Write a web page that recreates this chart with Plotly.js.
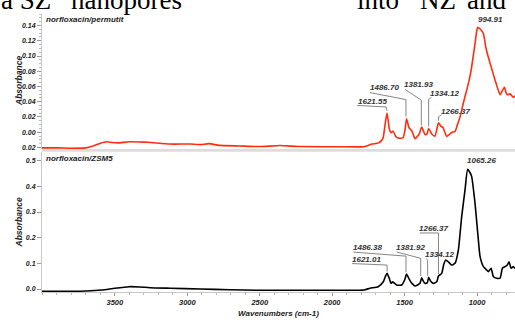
<!DOCTYPE html>
<html><head><meta charset="utf-8">
<script src="https://cdn.plot.ly/plotly-3.0.1.min.js"></script>
<style>html,body{margin:0;padding:0;background:#fff;overflow:hidden}#chart{width:515px;height:320px}</style>
</head><body><div id="chart"></div>
<script>
// ---- data ----
const permutitWn = [4003,3900,3800,3700,3650,3600,3560,3520,3480,3400,3300,3250,3120,2980,2910,2850,2780,2640,2500,2360,2220,1950,1780,1725,1680,1650,1635,1621.55,1605,1594,1580,1560,1546,1511,1498,1486.70,1470,1449,1428,1400,1381.93,1359,1345,1334.12,1310,1290,1266.37,1250,1235,1209,1175,1152,1135,1117,1095,1071,1050,1037,1014,1003,994.91,980,956,940,929,910,876,841,830,811,800,791,772,749,738];
const permutitAbs = [-0.0205,-0.0205,-0.021,-0.0205,-0.018,-0.0145,-0.0125,-0.0135,-0.014,-0.0125,-0.013,-0.0135,-0.0155,-0.0155,-0.0163,-0.015,-0.0173,-0.018,-0.0188,-0.0175,-0.0188,-0.019,-0.019,-0.0155,-0.014,-0.0085,0.010,0.0253,0.004,-0.0006,0.0014,-0.006,-0.0075,-0.0075,0.002,0.0175,0.006,0.0014,-0.0086,-0.0025,0.0067,-0.0029,-0.0022,0.0049,-0.003,-0.005,0.0123,0.008,0.0062,-0.0055,-0.0003,0.001,0.010,0.0205,0.038,0.0556,0.072,0.0859,0.1162,0.132,0.1378,0.1357,0.1292,0.112,0.1032,0.0906,0.0686,0.0491,0.053,0.0591,0.052,0.0491,0.0504,0.0456,0.0478];
const zsm5Wn = [4003,3800,3700,3590,3500,3400,3330,3258,3120,2913,2706,2499,2300,2000,1780,1739,1682,1647,1632,1621.01,1605,1594,1582,1555,1520,1500,1486.38,1470,1458,1428,1394,1381.92,1370,1359,1343,1334.12,1320,1302,1278,1266.37,1244,1230,1216,1198,1175,1152,1129,1106,1083,1065.26,1050,1037,1014,995,979,956,933,922,903,887,864,841,825,807,791,779,765,749,738];
const zsm5Abs = [-0.009,-0.009,-0.008,-0.004,0.003,0.009,0.008,0.005,0.003,0.000,-0.003,-0.005,-0.005,-0.005,-0.004,0.003,0.009,0.028,0.050,0.061,0.040,0.022,0.028,0.0156,0.0156,0.035,0.058,0.040,0.028,0.0117,0.022,0.044,0.030,0.022,0.025,0.0456,0.030,0.022,0.028,0.0507,0.061,0.095,0.113,0.106,0.0935,0.100,0.152,0.282,0.386,0.466,0.455,0.438,0.334,0.217,0.126,0.087,0.074,0.0675,0.081,0.048,0.042,0.042,0.081,0.087,0.0935,0.106,0.081,0.087,0.080];
const permutitPeaks = [1621.55, 1486.70, 1381.93, 1334.12, 1266.37, 994.91];
const zsm5Peaks = [1621.01, 1486.38, 1381.92, 1334.12, 1266.37, 1065.26];
const panelTitles = ['norfloxacin/permutit', 'norfloxacin/ZSM5'];
const topTickVals = [-0.02, 0, 0.02, 0.04, 0.06, 0.08, 0.10, 0.12, 0.14];
const topTickText = ['0.02', '0.00', '0.02', '0.04', '0.06', '0.08', '0.10', '0.12', '0.14'];
const bottomTickVals = [0, 0.1, 0.2, 0.3, 0.4, 0.5];
const bottomTickText = ['0.0', '0.1', '0.2', '0.3', '0.4', '0.5'];
const xTickVals = [3500, 3000, 2500, 2000, 1500, 1000];
const xTitle = 'Wavenumbers (cm-1)';
const yTitle = 'Absorbance';
const headerWords = ['a SZ', 'nanopores', 'into', 'NZ', 'and'];

// ---- styles (label offsets in screen pixels, y downward) ----
const topLabelStyle = [
  {dx:-15, dy:-11.3, path:[[-30,-7.5],[-1,-6],[0,-2]]},
  {dx:-22.3, dy:-31, path:[[-36.6,-26.3],[-0.6,-19.3],[-0.6,-2.3]]},
  {dx:-3, dy:-42.7, path:[[-16.7,-37.7],[-0.4,-27],[-0.4,-1.7]]},
  {dx:16.3, dy:-35, path:[[2.7,-31],[0,-29],[0,-2]]},
  {dx:17, dy:-11.6, path:[[3,-8],[0,-6],[0,-2]]},
  {dx:12.7, dy:-7.5, path:null}
];
const bottomLabelStyle = [
  {dx:-21, dy:-14, path:[[-35,-9.8],[0,-8.3],[0,-1.8]]},
  {dx:-39, dy:-26.7, path:[[-53,-22],[-0.6,-18],[-0.6,-2]]},
  {dx:-11.4, dy:-30.4, path:[[-25,-25.7],[-1,-19.4],[-1,-1.7]]},
  {dx:11.3, dy:-23.3, path:[[-2.3,-18.8],[-1,-17],[-1,-1.5]]},
  {dx:-4.8, dy:-47.7, path:[[-18.6,-43],[0,-43],[0,-2]]},
  {dx:14.2, dy:-8.6, path:null}
];
const headerStyle = [
  {sx:-1, anchor:'left'}, {sx:184, anchor:'right'},
  {sx:355, anchor:'left'}, {sx:438, anchor:'center'}, {sx:508, anchor:'right'}
];

const SANS = 'Liberation Sans, Arial, sans-serif';
const bi = (size, color) => ({family: SANS, size: size, color: color || '#222', weight: 'bold', style: 'italic'});
const W = 515, H = 320, ML = 42, MR = 0, MT = 14, MB = 28;
const PW = W - ML - MR, PH = H - MT - MB;
const paperY = s => (H - MB - s) / PH;
const paperX = s => (s - ML) / PW;

const annotations = [];
const shapes = [];

function addLabels(peaks, wn, ab, styles, yref) {
  peaks.forEach((p, i) => {
    const idx = wn.indexOf(p);
    const v = ab[idx];
    const st = styles[i];
    annotations.push({x: p, y: v, xref: 'x', yref: yref, text: p.toFixed(2), showarrow: false,
      xanchor: 'center', yanchor: 'middle', xshift: st.dx, yshift: -st.dy, font: bi(8, '#333')});
    if (st.path) {
      const d = st.path.map((pt, k) => (k === 0 ? 'M' : 'L') + pt[0] + ',' + (-pt[1])).join(' ');
      shapes.push({type: 'path', xref: 'x', yref: yref, xsizemode: 'pixel', ysizemode: 'pixel',
        xanchor: p, yanchor: v, path: d, line: {color: '#666', width: 0.8}});
    }
  });
}
addLabels(permutitPeaks, permutitWn, permutitAbs, topLabelStyle, 'y2');
addLabels(zsm5Peaks, zsm5Wn, zsm5Abs, bottomLabelStyle, 'y');

// panel titles
annotations.push({x: 0, y: 1, xref: 'paper', yref: 'paper', xanchor: 'left', yanchor: 'top',
  xshift: 2, yshift: 1, text: panelTitles[0], showarrow: false, font: bi(8)});
annotations.push({x: 0, y: paperY(152), xref: 'paper', yref: 'paper', xanchor: 'left', yanchor: 'top',
  xshift: 2, yshift: 0, text: panelTitles[1], showarrow: false, font: bi(8)});

// y axis titles (placed as rotated annotations beside each panel)
annotations.push({x: paperX(18.5), y: paperY(81.5), xref: 'paper', yref: 'paper', xanchor: 'center', yanchor: 'middle',
  textangle: -90, text: yTitle, showarrow: false, font: bi(8.5)});
annotations.push({x: paperX(18.5), y: paperY(223), xref: 'paper', yref: 'paper', xanchor: 'center', yanchor: 'middle',
  textangle: -90, text: yTitle, showarrow: false, font: bi(8.5)});

// cropped header text from the page
headerWords.forEach((w, i) => {
  annotations.push({x: paperX(headerStyle[i].sx), y: 1, xref: 'paper', yref: 'paper',
    xanchor: headerStyle[i].anchor, yanchor: 'bottom', yshift: -3, text: w, showarrow: false,
    font: {family: 'Liberation Serif, Times New Roman, serif', size: 27, color: '#000'}});
});

// gray separator band
shapes.push({type: 'rect', xref: 'paper', yref: 'paper', x0: 0, x1: 1, y0: paperY(151.8), y1: paperY(149),
  fillcolor: '#dcdcdc', line: {width: 0}, layer: 'below'});

const traces = [
  {x: permutitWn, y: permutitAbs, xaxis: 'x2', yaxis: 'y2', type: 'scatter', mode: 'lines',
   line: {color: '#ff2d0d', width: 1.6, shape: 'spline', smoothing: 0.5}, hoverinfo: 'skip'},
  {x: zsm5Wn, y: zsm5Abs, xaxis: 'x', yaxis: 'y', type: 'scatter', mode: 'lines',
   line: {color: '#000', width: 1.6, shape: 'spline', smoothing: 0.5}, hoverinfo: 'skip'}
];

const xRange = [4003, 738];
const layout = {
  width: W, height: H, margin: {l: ML, r: MR, t: MT, b: MB, pad: 0},
  paper_bgcolor: '#fff', plot_bgcolor: '#fff', showlegend: false,
  xaxis: {domain: [0, 1], anchor: 'y', range: xRange, tickvals: xTickVals, ticktext: xTickVals.map(String),
    showgrid: false, zeroline: false, showline: true, linecolor: '#c8c8c8', linewidth: 1,
    ticks: 'outside', ticklen: 3, tickcolor: '#999', tickfont: bi(7.5),
    minor: {dtick: 100, ticks: 'outside', ticklen: 2, tickcolor: '#bbb'},
    title: {text: xTitle, font: bi(8), standoff: 4}, automargin: false},
  xaxis2: {domain: [0, 1], anchor: 'y2', range: xRange, matches: 'x', showticklabels: false,
    showgrid: false, zeroline: false, showline: false, ticks: ''},
  yaxis: {domain: [0, paperY(152)], anchor: 'x', range: [-0.0117, 0.5339],
    tickvals: bottomTickVals, ticktext: bottomTickText, showgrid: false, zeroline: false,
    showline: true, linecolor: '#c8c8c8', linewidth: 1, ticks: 'outside', ticklen: 4, tickcolor: '#999',
    tickfont: bi(7), automargin: false},
  yaxis2: {domain: [paperY(149), 1], anchor: 'x2', range: [-0.022, 0.1551],
    tickvals: topTickVals, ticktext: topTickText, showgrid: false, zeroline: false,
    showline: true, linecolor: '#c8c8c8', linewidth: 1, ticks: 'outside', ticklen: 4, tickcolor: '#999',
    minor: {dtick: 0.005, ticks: 'outside', ticklen: 2, tickcolor: '#bbb'},
    tickfont: bi(7), automargin: false},
  annotations: annotations, shapes: shapes
};
Plotly.newPlot('chart', traces, layout, {staticPlot: true, displayModeBar: false});
</script></body></html>
